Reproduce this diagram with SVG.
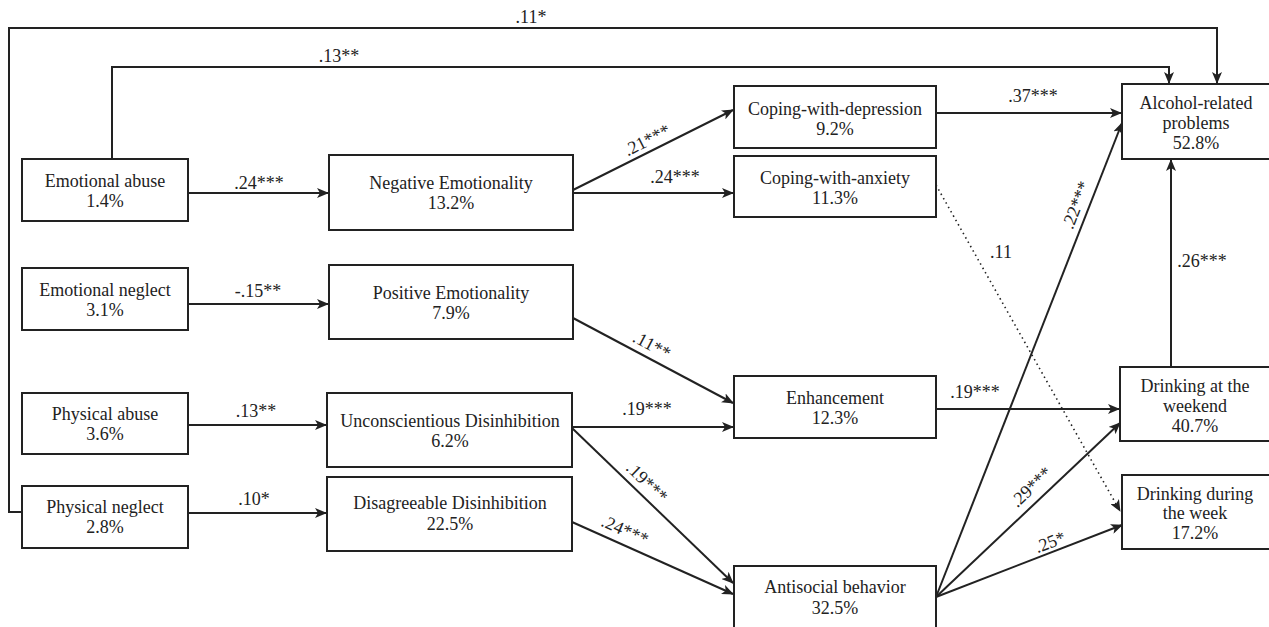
<svg xmlns="http://www.w3.org/2000/svg" width="1269" height="627" viewBox="0 0 1269 627">
<defs>
<style>
.box{fill:#fff;stroke:#222;stroke-width:2}
.t{font-family:"Liberation Serif","Times New Roman",serif;font-size:18px;fill:#222;text-anchor:middle}
.ln{fill:none;stroke:#222;stroke-width:2}
.dot{fill:none;stroke:#222;stroke-width:1.6;stroke-dasharray:1.5 3.5}
</style>
<marker id="ah" markerUnits="userSpaceOnUse" markerWidth="12" markerHeight="10" refX="11" refY="5" orient="auto">
<path d="M0,0 L12,5 L0,10 L3,5 Z" fill="#222"/>
</marker>
</defs>
<rect width="1269" height="627" fill="#fff"/>

<g id="connectors">
<path class="ln" d="M22,512 H9 V28 H1217 V83" marker-end="url(#ah)"/>
<path class="ln" d="M112,159 V67 H1169 V83" marker-end="url(#ah)"/>
<line class="ln" x1="188" y1="193" x2="328" y2="193" marker-end="url(#ah)"/>
<line class="ln" x1="188" y1="304" x2="328" y2="304" marker-end="url(#ah)"/>
<line class="ln" x1="188" y1="425" x2="326" y2="425" marker-end="url(#ah)"/>
<line class="ln" x1="188" y1="513" x2="326" y2="513" marker-end="url(#ah)"/>
<line class="ln" x1="573" y1="190" x2="733" y2="110" marker-end="url(#ah)"/>
<line class="ln" x1="573" y1="193" x2="733" y2="193" marker-end="url(#ah)"/>
<line class="ln" x1="573" y1="318" x2="733" y2="403" marker-end="url(#ah)"/>
<line class="ln" x1="572" y1="427" x2="733" y2="427" marker-end="url(#ah)"/>
<line class="ln" x1="572" y1="428" x2="733" y2="583" marker-end="url(#ah)"/>
<line class="ln" x1="572" y1="522" x2="733" y2="594" marker-end="url(#ah)"/>
<line class="ln" x1="936" y1="113" x2="1121" y2="113" marker-end="url(#ah)"/>
<line class="ln" x1="936" y1="409" x2="1119" y2="409" marker-end="url(#ah)"/>
<line class="ln" x1="936" y1="597" x2="1122" y2="123" marker-end="url(#ah)"/>
<line class="ln" x1="936" y1="597" x2="1120" y2="423" marker-end="url(#ah)"/>
<line class="ln" x1="936" y1="597" x2="1122" y2="525" marker-end="url(#ah)"/>
<line class="ln" x1="1171" y1="367" x2="1171" y2="160" marker-end="url(#ah)"/>
<line class="dot" x1="936" y1="185" x2="1120" y2="511" marker-end="url(#ah)"/>
</g>

<g id="labels">
<text class="t" x="531" y="23">.11*</text>
<text class="t" x="339" y="62">.13**</text>
<text class="t" x="259" y="189">.24***</text>
<text class="t" x="258" y="297">-.15**</text>
<text class="t" x="256" y="417">.13**</text>
<text class="t" x="254" y="505">.10*</text>
<text class="t" x="675" y="183">.24***</text>
<text class="t" x="647" y="415">.19***</text>
<text class="t" x="1033" y="102">.37***</text>
<text class="t" x="975" y="398">.19***</text>
<text class="t" x="1001" y="258">.11</text>
<text class="t" x="1202" y="267">.26***</text>
<text class="t" x="647" y="146" transform="rotate(-27 647 140)">.21***</text>
<text class="t" x="652" y="351" transform="rotate(28 652 345)">.11**</text>
<text class="t" x="647" y="488" transform="rotate(44 647 482)">.19***</text>
<text class="t" x="625" y="536" transform="rotate(24 625 530)">.24***</text>
<text class="t" x="1076" y="211" transform="rotate(-68.6 1076 205)">.22***</text>
<text class="t" x="1031" y="493" transform="rotate(-43.4 1031 487)">.29***</text>
<text class="t" x="1050" y="548" transform="rotate(-21 1050 542)">.25*</text>
</g>

<g id="emotional-abuse"><rect class="box" x="22" y="159" width="166" height="62"/><text class="t" x="105" y="187">Emotional abuse</text><text class="t" x="105" y="207">1.4%</text></g>
<g id="emotional-neglect"><rect class="box" x="22" y="268" width="166" height="62"/><text class="t" x="105" y="296">Emotional neglect</text><text class="t" x="105" y="316">3.1%</text></g>
<g id="physical-abuse"><rect class="box" x="22" y="393" width="166" height="61"/><text class="t" x="105" y="420">Physical abuse</text><text class="t" x="105" y="440">3.6%</text></g>
<g id="physical-neglect"><rect class="box" x="22" y="486" width="166" height="62"/><text class="t" x="105" y="513">Physical neglect</text><text class="t" x="105" y="533">2.8%</text></g>

<g id="negative-emotionality"><rect class="box" x="329" y="155" width="244" height="75"/><text class="t" x="451" y="189">Negative Emotionality</text><text class="t" x="451" y="209">13.2%</text></g>
<g id="positive-emotionality"><rect class="box" x="329" y="265" width="244" height="74"/><text class="t" x="451" y="299">Positive Emotionality</text><text class="t" x="451" y="319">7.9%</text></g>
<g id="unconscientious-disinhibition"><rect class="box" x="327" y="393" width="245" height="74"/><text class="t" x="450" y="427">Unconscientious Disinhibition</text><text class="t" x="450" y="447">6.2%</text></g>
<g id="disagreeable-disinhibition"><rect class="box" x="327" y="477" width="245" height="74"/><text class="t" x="450" y="509">Disagreeable Disinhibition</text><text class="t" x="450" y="530">22.5%</text></g>

<g id="coping-depression"><rect class="box" x="734" y="86" width="202" height="62"/><text class="t" x="835" y="115">Coping-with-depression</text><text class="t" x="835" y="135">9.2%</text></g>
<g id="coping-anxiety"><rect class="box" x="734" y="156" width="202" height="61"/><text class="t" x="835" y="184">Coping-with-anxiety</text><text class="t" x="835" y="204">11.3%</text></g>
<g id="enhancement"><rect class="box" x="734" y="376" width="202" height="62"/><text class="t" x="835" y="404">Enhancement</text><text class="t" x="835" y="424">12.3%</text></g>
<g id="antisocial-behavior"><rect class="box" x="734" y="566" width="202" height="80"/><text class="t" x="835" y="593">Antisocial behavior</text><text class="t" x="835" y="614">32.5%</text></g>

<g id="alcohol-problems"><rect class="box" x="1122" y="84" width="160" height="75"/><text class="t" x="1196" y="109">Alcohol-related</text><text class="t" x="1196" y="129">problems</text><text class="t" x="1196" y="149">52.8%</text></g>
<g id="drinking-weekend"><rect class="box" x="1120" y="367" width="162" height="74"/><text class="t" x="1195" y="392">Drinking at the</text><text class="t" x="1195" y="412">weekend</text><text class="t" x="1195" y="432">40.7%</text></g>
<g id="drinking-week"><rect class="box" x="1122" y="475" width="160" height="74"/><text class="t" x="1195" y="500">Drinking during</text><text class="t" x="1195" y="519">the week</text><text class="t" x="1195" y="539">17.2%</text></g>
</svg>
